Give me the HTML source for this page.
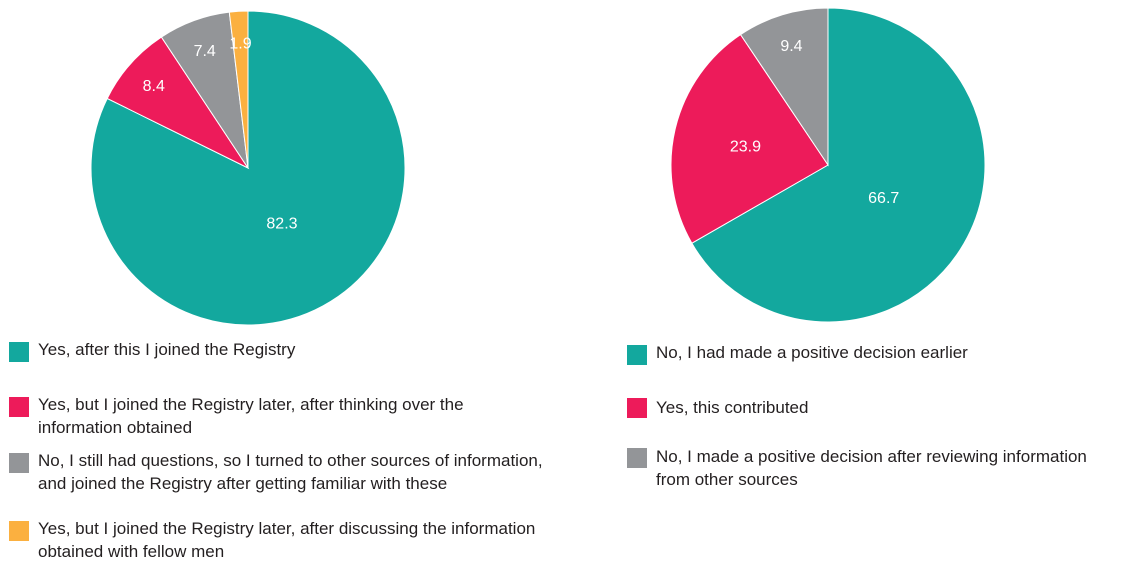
<!DOCTYPE html>
<html><head><meta charset="utf-8"><style>
body{margin:0;width:1139px;height:572px;background:#fff;font-family:"Liberation Sans",sans-serif;overflow:hidden;position:relative}
.lg{position:absolute;font-size:17px;line-height:22.5px;color:#231f20}
.sq{position:absolute;width:20px;height:20px}
</style></head><body>
<svg id="chart" width="1139" height="572" style="position:absolute;left:0;top:0"></svg>

<div class="sq" style="left:9px;top:342px;background:#13a89e"></div>
<div class="lg" style="left:38px;top:339px">Yes, after this I joined the Registry</div>
<div class="sq" style="left:9px;top:397px;background:#ed1b5a"></div>
<div class="lg" style="left:38px;top:394px">Yes, but I joined the Registry later, after thinking over the<br>information obtained</div>
<div class="sq" style="left:9px;top:453px;background:#939598"></div>
<div class="lg" style="left:38px;top:450px">No, I still had questions, so I turned to other sources of information,<br>and joined the Registry after getting familiar with these</div>
<div class="sq" style="left:9px;top:521px;background:#fbb040"></div>
<div class="lg" style="left:38px;top:518px">Yes, but I joined the Registry later, after discussing the information<br>obtained with fellow men</div>

<div class="sq" style="left:627px;top:345px;background:#13a89e"></div>
<div class="lg" style="left:656px;top:342px">No, I had made a positive decision earlier</div>
<div class="sq" style="left:627px;top:398px;background:#ed1b5a"></div>
<div class="lg" style="left:656px;top:397px">Yes, this contributed</div>
<div class="sq" style="left:627px;top:448px;background:#939598"></div>
<div class="lg" style="left:656px;top:446px">No, I made a positive decision after reviewing information<br>from other sources</div>

<script>
const leftValues = [82.3, 8.4, 7.4, 1.9];
const leftLabels = ["82.3", "8.4", "7.4", "1.9"];
const rightValues = [66.7, 23.9, 9.4];
const rightLabels = ["66.7", "23.9", "9.4"];
const colors = ["#13a89e", "#ed1b5a", "#939598", "#fbb040"];
const NS = "http://www.w3.org/2000/svg";
const svg = document.getElementById("chart");
function drawPie(values, labels, cx, cy, r, prefix) {
  const total = values.reduce((a, b) => a + b, 0);
  let acc = 0;
  values.forEach((v, i) => {
    const a0 = acc / total * 2 * Math.PI;
    acc += v;
    const a1 = acc / total * 2 * Math.PI;
    const x0 = cx + r * Math.sin(a0), y0 = cy - r * Math.cos(a0);
    const x1 = cx + r * Math.sin(a1), y1 = cy - r * Math.cos(a1);
    const large = (a1 - a0) > Math.PI ? 1 : 0;
    const p = document.createElementNS(NS, "path");
    p.setAttribute("d", `M${cx},${cy} L${x0},${y0} A${r},${r} 0 ${large} 1 ${x1},${y1} Z`);
    p.setAttribute("fill", colors[i]);
    p.setAttribute("stroke", "#fff");
    p.setAttribute("stroke-width", "1");
    
    
    svg.appendChild(p);
    const am = (a0 + a1) / 2;
    const pct = v / total;
    const f = pct > 0.5 ? 0.41 : (pct > 0.15 ? 0.54 : 0.8);
    const t = document.createElementNS(NS, "text");
    t.setAttribute("x", cx + r * f * Math.sin(am));
    t.setAttribute("y", cy - r * f * Math.cos(am) + 6);
    t.setAttribute("text-anchor", "middle");
    t.setAttribute("fill", "#fff");
    t.setAttribute("font-size", "16");
    t.setAttribute("font-family", "Liberation Sans, sans-serif");
    t.textContent = labels[i];
    
    
    svg.appendChild(t);
  });
}
drawPie(leftValues, leftLabels, 248, 168, 157, "left-pie");
drawPie(rightValues, rightLabels, 828, 165, 157, "right-pie");
</script>
</body></html>
